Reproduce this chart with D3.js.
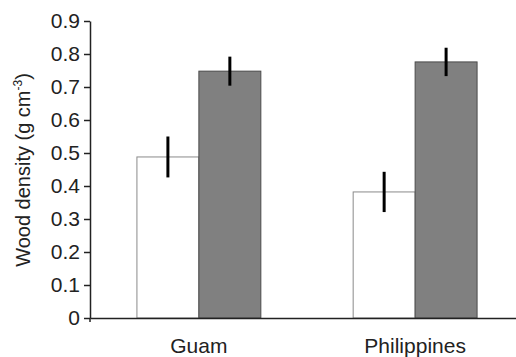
<!doctype html>
<html>
<head>
<meta charset="utf-8">
<style>
  body { margin: 0; background: #fff; font-family: "Liberation Sans", Arial, Helvetica; }
  text { fill: #222; }
</style>
</head>
<body>
<div id="chart"></div>
<script src="https://cdnjs.cloudflare.com/ajax/libs/d3/7.8.5/d3.min.js"></script>
<script>
  var width = 516
  var height = 357

  // data
  var sites = ['Guam', 'Philippines']
  var groups = ['white', 'gray']
  var means = {
    white: [0.488, 0.382],
    gray: [0.748, 0.776]
  }
  var errors = {
    white: [0.062, 0.061],
    gray: [0.044, 0.043]
  }
  var yTicks = [0, 0.1, 0.2, 0.3, 0.4, 0.5, 0.6, 0.7, 0.8, 0.9]

  var svg = d3.select('#chart')
    .append('svg')
    .attr('width', width)
    .attr('height', height)

  var x = d3.scaleBand()
    .domain(sites)
    .range([90, 524])
    .paddingInner(0.427)
    .paddingOuter(0.217)

  var xInner = d3.scaleBand()
    .domain(groups)
    .range([0, x.bandwidth()])

  var y = d3.scaleLinear()
    .domain([0, 0.9])
    .range([318, 21])

  var fills = { white: '#ffffff', gray: '#808080' }
  var strokes = { white: '#8a8a8a', gray: '#4a4a4a' }

  var rows = []
  sites.forEach((s, i) => {
    groups.forEach(g => {
      rows.push({ site: s, group: g, value: means[g][i], err: errors[g][i] })
    })
  })

  // bars
  svg.append('g')
    .selectAll('rect')
    .data(rows)
    .enter().append('rect')
    .attr('x', d => x(d.site) + xInner(d.group))
    .attr('y', d => y(d.value))
    .attr('width', xInner.bandwidth())
    .attr('height', d => y(0) - y(d.value))
    .attr('fill', d => fills[d.group])
    .attr('stroke', d => strokes[d.group])
    .attr('stroke-width', 1)

  // error bars
  svg.append('g')
    .selectAll('line')
    .data(rows)
    .enter().append('line')
    .attr('x1', d => x(d.site) + xInner(d.group) + xInner.bandwidth() / 2)
    .attr('x2', d => x(d.site) + xInner(d.group) + xInner.bandwidth() / 2)
    .attr('y1', d => y(d.value + d.err))
    .attr('y2', d => y(d.value - d.err))
    .attr('stroke', '#000')
    .attr('stroke-width', 3)

  // y axis
  var yAxis = svg.append('g')
    .attr('transform', 'translate(90,0)')
    .call(d3.axisLeft(y)
      .tickValues(yTicks)
      .tickFormat(d => d === 0 ? '0' : d3.format('.1f')(d))
      .tickSize(6)
      .tickSizeOuter(0)
      .tickPadding(4))
  yAxis.attr('font-size', 21).attr('font-family', '"Liberation Sans", Arial')
  yAxis.select('.domain').attr('stroke', '#222').attr('stroke-width', 1.5)
  yAxis.selectAll('.tick line').attr('stroke', '#222').attr('stroke-width', 1.5)
  yAxis.selectAll('.tick text').attr('fill', '#222')

  // little stub of the y axis below zero
  svg.append('line')
    .attr('x1', 90).attr('x2', 90)
    .attr('y1', y(0)).attr('y2', y(0) + 4)
    .attr('stroke', '#222').attr('stroke-width', 1.5)

  // x axis
  var xAxis = svg.append('g')
    .attr('transform', `translate(0,${y(0)})`)
    .call(d3.axisBottom(x).tickSize(0).tickSizeOuter(0).tickPadding(20))
  xAxis.attr('font-size', 21).attr('font-family', '"Liberation Sans", Arial')
  xAxis.select('.domain').attr('stroke', '#222').attr('stroke-width', 1.5)
  xAxis.selectAll('.tick text').attr('fill', '#222')

  // y title
  var title = svg.append('text')
    .attr('transform', 'translate(30,170) rotate(-90)')
    .attr('text-anchor', 'middle')
    .attr('font-size', 20)
    .attr('font-family', '"Liberation Sans", Arial')
    .attr('fill', '#222')
  title.append('tspan').text('Wood density (g cm')
  title.append('tspan').text('-3').attr('font-size', 12).attr('dy', -8)
  title.append('tspan').text(')').attr('dy', 8)
</script>
</body>
</html>
